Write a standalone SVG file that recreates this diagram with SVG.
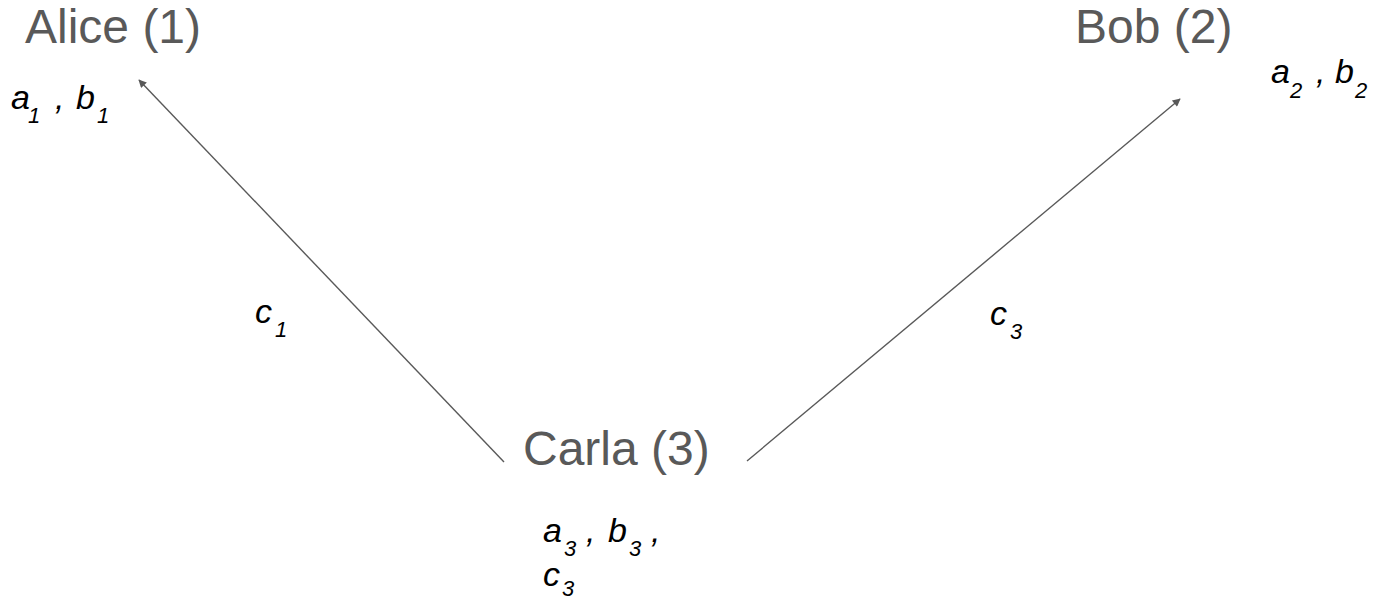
<svg xmlns="http://www.w3.org/2000/svg" width="1379" height="602" viewBox="0 0 1379 602">
  <style>
    .name { font-family: "Liberation Sans", Arial, sans-serif; font-size: 48px; fill: #595959; }
    .var { font-family: "Liberation Sans", Arial, sans-serif; font-size: 34px; font-style: italic; fill: #000000; }
    .sub { font-size: 22px; }
    .edge { stroke: #595959; stroke-width: 1.4; fill: none; marker-end: url(#head); }
  </style>
  <defs>
    <marker id="head" viewBox="0 0 10 10" refX="9" refY="5" markerWidth="10" markerHeight="8" orient="auto" markerUnits="userSpaceOnUse">
      <path d="M0,0 L10,5 L0,10 z" fill="#595959"/>
    </marker>
  </defs>

  <g id="connectors">
    <line class="edge" x1="504" y1="462" x2="139" y2="80"/>
    <line class="edge" x1="747" y1="461" x2="1180" y2="99"/>
  </g>

  <g id="label-c1">
    <text class="var"><tspan x="255" y="323">c</tspan><tspan class="sub" x="275" y="337">1</tspan></text>
  </g>
  <g id="label-c3">
    <text class="var"><tspan x="990" y="325">c</tspan><tspan class="sub" x="1010" y="339">3</tspan></text>
  </g>

  <g id="alice">
    <text class="name" x="25" y="43">Alice (1)</text>
    <text class="var"><tspan x="11" y="109">a</tspan><tspan class="sub" x="28" y="123">1</tspan><tspan x="55" y="109">,</tspan><tspan x="76" y="109">b</tspan><tspan class="sub" x="97" y="123">1</tspan></text>
  </g>

  <g id="bob">
    <text class="name" x="1075" y="43">Bob (2)</text>
    <text class="var"><tspan x="1271" y="83">a</tspan><tspan class="sub" x="1290" y="98">2</tspan><tspan x="1316" y="83">,</tspan><tspan x="1335" y="83">b</tspan><tspan class="sub" x="1355" y="98">2</tspan></text>
  </g>

  <g id="carla">
    <text class="name" x="523" y="465">Carla (3)</text>
    <text class="var"><tspan x="543" y="542">a</tspan><tspan class="sub" x="564" y="556">3</tspan><tspan x="586" y="542">,</tspan><tspan x="608" y="542">b</tspan><tspan class="sub" x="629" y="556">3</tspan><tspan x="651" y="542">,</tspan></text>
    <text class="var"><tspan x="543" y="586">c</tspan><tspan class="sub" x="562" y="596">3</tspan></text>
  </g>
</svg>
